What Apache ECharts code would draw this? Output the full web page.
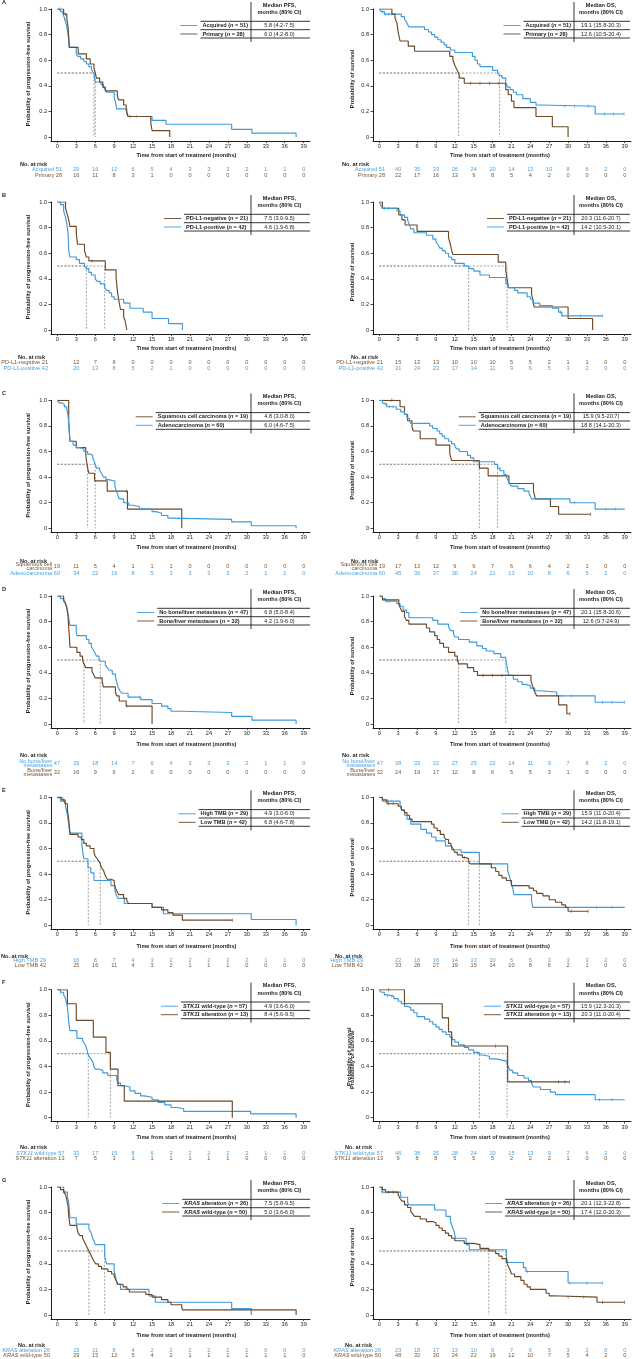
<!DOCTYPE html>
<html><head><meta charset="utf-8">
<script src="https://cdn.jsdelivr.net/npm/echarts@6/dist/echarts.min.js"></script>
<style>html,body{margin:0;padding:0;background:#fff}#c{width:632px;height:1359px}</style>
</head><body><div id="c"></div>
<script>
// ---------------- DATA ----------------
const TIMES = [0,3,6,9,12,15,18,21,24,27,30,33,36,39];
const Y_TICKS = [0,0.2,0.4,0.6,0.8,1];

// Panel A
const A_PFS_ACQ = [[0,1],[0.5,0.98],[0.9,0.96],[1.2,0.92],[1.5,0.86],[1.7,0.80],[1.8,0.76],[1.9,0.70],[3.0,0.65],[3.2,0.63],[3.7,0.61],[4.2,0.59],[4.6,0.57],[5.0,0.55],[5.4,0.53],[5.6,0.51],[5.8,0.49],[5.9,0.45],[6.0,0.43],[6.9,0.41],[7.3,0.39],[7.6,0.37],[7.8,0.35],[9.0,0.31],[9.2,0.27],[9.4,0.22],[11.0,0.18],[11.2,0.16],[15.0,0.13],[17.2,0.10],[27.6,0.06],[30.8,0.03],[37.8,0]];
const A_PFS_PRI = [[0,1],[1.0,0.96],[1.5,0.93],[1.7,0.86],[1.8,0.79],[1.9,0.70],[3.3,0.65],[4.6,0.61],[5.2,0.57],[5.8,0.54],[6.0,0.50],[6.2,0.46],[6.7,0.43],[7.2,0.39],[7.6,0.36],[9.5,0.32],[9.7,0.29],[10.5,0.25],[10.9,0.21],[11.2,0.16],[14.8,0.11],[15.0,0.05],[17.8,0]];
const A_OS_ACQ = [[0,1],[0.3,0.98],[0.8,0.96],[3.5,0.94],[4.0,0.92],[4.3,0.90],[4.5,0.88],[4.7,0.86],[7.2,0.84],[7.8,0.82],[8.3,0.80],[8.8,0.78],[9.3,0.76],[9.8,0.74],[10.3,0.72],[10.7,0.70],[11.3,0.68],[12.0,0.66],[14.8,0.63],[15.2,0.60],[15.6,0.57],[16.0,0.55],[18.0,0.52],[18.8,0.50],[19.1,0.48],[19.5,0.46],[20.1,0.42],[20.4,0.39],[20.8,0.37],[21.3,0.35],[21.8,0.33],[22.8,0.30],[24.0,0.27],[24.9,0.25],[25.6,0.24],[34.3,0.18],[38.9,0.18]];
const A_OS_PRI = [[0,1],[2.0,0.96],[2.5,0.93],[2.8,0.89],[3.0,0.82],[3.3,0.75],[4.6,0.71],[5.6,0.67],[11.2,0.63],[11.7,0.60],[12.0,0.56],[12.3,0.53],[12.6,0.50],[12.8,0.46],[13.5,0.42],[20.1,0.37],[20.5,0.33],[21.0,0.28],[21.4,0.23],[24.9,0.16],[27.5,0.08],[30.0,0]];
const A_PFS_ACQ_C = [0.3,1.2,12.5];
const A_PFS_PRI_C = [1.3,11.5];
const A_OS_ACQ_C = [0.5,1.0,1.5,2.0,29.5,31,33.2,35.8,37.2,38.9];
const A_OS_PRI_C = [14.5,16,17.5,19];
const R_A_PFS_ACQ = [51,29,16,12,6,5,4,3,3,3,2,1,1,0];
const R_A_PFS_PRI = [28,16,11,8,3,1,0,0,0,0,0,0,0,0];
const R_A_OS_ACQ = [51,40,35,33,26,24,20,14,12,10,8,6,2,0];
const R_A_OS_PRI = [28,22,17,16,13,9,8,5,4,2,0,0,0,0];

// Panel B
const B_PFS_NEG = [[0,1],[1.3,0.95],[1.6,0.90],[1.8,0.86],[2.0,0.81],[3.0,0.76],[3.1,0.71],[3.2,0.67],[4.3,0.62],[4.6,0.57],[5.0,0.54],[7.6,0.47],[9.3,0.41],[9.5,0.31],[9.7,0.24],[10.0,0.16],[10.5,0.10],[10.7,0.08],[11.0,0]];
const B_PFS_POS = [[0,1],[0.5,0.98],[1.0,0.93],[1.3,0.88],[1.5,0.83],[1.7,0.76],[1.8,0.62],[2.0,0.57],[3.0,0.55],[3.5,0.52],[4.3,0.50],[4.6,0.48],[5.0,0.45],[5.4,0.43],[6.0,0.40],[6.3,0.38],[6.8,0.36],[7.5,0.33],[7.8,0.31],[8.2,0.29],[8.6,0.26],[9.0,0.24],[10.5,0.21],[11.5,0.17],[13.6,0.14],[15.0,0.09],[17.6,0.05],[19.8,0]];
const B_OS_NEG = [[0,1],[0.5,0.95],[3.1,0.90],[3.6,0.86],[4.1,0.82],[6.0,0.77],[11.0,0.72],[11.3,0.67],[11.5,0.62],[11.7,0.59],[18.9,0.53],[20.1,0.47],[20.3,0.40],[20.5,0.33],[24.2,0.28],[24.4,0.24],[24.6,0.18],[30.0,0.09],[33.9,0]];
const B_OS_POS = [[0,1],[0.2,0.98],[0.5,0.95],[2.8,0.93],[3.3,0.90],[4.0,0.88],[4.5,0.86],[4.7,0.83],[5.0,0.79],[5.5,0.76],[7.5,0.74],[8.5,0.71],[9.0,0.69],[9.3,0.67],[9.6,0.64],[10.0,0.62],[10.5,0.60],[11.0,0.57],[11.5,0.55],[12.0,0.52],[13.5,0.50],[14.2,0.48],[15.0,0.46],[16.0,0.43],[17.5,0.41],[20.1,0.36],[20.5,0.33],[21.5,0.31],[22.0,0.29],[23.5,0.26],[24.0,0.24],[24.4,0.21],[25.5,0.19],[27.5,0.17],[28.5,0.14],[29.0,0.11],[35.5,0.11]];
const B_PFS_NEG_C = [5.5];
const B_PFS_POS_C = [];
const B_OS_NEG_C = [];
const B_OS_POS_C = [0.8,1.5,28.8,32,35.5];
const R_B_PFS_NEG = [21,12,7,6,0,0,0,0,0,0,0,0,0,0];
const R_B_PFS_POS = [42,20,13,8,5,2,1,0,0,0,0,0,0,0];
const R_B_OS_NEG = [21,15,13,13,10,10,10,5,5,2,1,1,0,0];
const R_B_OS_POS = [42,31,24,22,17,14,11,9,6,5,3,2,0,0];

// Panel C
const C_PFS_SQ = [[0,1],[1.8,0.84],[2.0,0.68],[3.0,0.63],[4.5,0.58],[4.6,0.53],[4.8,0.47],[5.0,0.43],[5.9,0.37],[7.9,0.29],[11.1,0.15],[19.7,0]];
const C_PFS_AD = [[0,1],[0.3,0.98],[0.7,0.97],[1.1,0.95],[1.5,0.93],[1.7,0.88],[1.8,0.82],[1.9,0.75],[2.0,0.68],[2.5,0.65],[3.0,0.63],[3.6,0.62],[4.2,0.60],[4.8,0.58],[5.2,0.57],[5.6,0.55],[5.8,0.53],[6.0,0.50],[6.2,0.47],[6.7,0.45],[7.0,0.43],[7.3,0.40],[7.7,0.38],[8.1,0.37],[9.1,0.33],[9.3,0.30],[9.5,0.27],[9.8,0.23],[10.5,0.20],[11.3,0.18],[12.0,0.17],[13.0,0.15],[15.0,0.13],[15.6,0.12],[16.5,0.10],[17.5,0.08],[18.0,0.07],[27.6,0.05],[30.7,0.02],[37.8,0]];
const C_OS_SQ = [[0,1],[3.3,0.95],[4.0,0.89],[4.5,0.84],[5.2,0.79],[5.4,0.76],[6.5,0.70],[9.0,0.65],[11.2,0.58],[11.5,0.53],[15.9,0.47],[17.3,0.41],[20.6,0.35],[24.5,0.29],[24.8,0.23],[27.2,0.17],[28.5,0.11],[33.6,0.11]];
const C_OS_AD = [[0,1],[0.5,0.98],[0.8,0.97],[1.2,0.95],[2.7,0.93],[3.4,0.91],[4.0,0.89],[4.4,0.86],[4.8,0.84],[5.0,0.82],[8.0,0.80],[8.5,0.78],[9.2,0.76],[9.6,0.74],[10.0,0.72],[10.4,0.70],[11.0,0.68],[11.5,0.66],[12.0,0.64],[12.3,0.62],[12.7,0.60],[14.0,0.57],[14.5,0.55],[15.0,0.52],[18.3,0.50],[18.8,0.47],[19.2,0.45],[19.8,0.42],[20.2,0.40],[20.5,0.37],[20.7,0.35],[21.0,0.33],[22.0,0.31],[23.0,0.29],[23.8,0.27],[24.0,0.25],[24.2,0.23],[30.3,0.20],[34.3,0.15],[39.0,0.15]];
const C_PFS_SQ_C = [11];
const C_PFS_AD_C = [1.2,13.5];
const C_OS_SQ_C = [2,33.6];
const C_OS_AD_C = [1,1.6,2.2,31,36,37.5];
const R_C_PFS_SQ = [19,11,5,4,1,1,1,0,0,0,0,0,0,0];
const R_C_PFS_AD = [60,34,22,16,8,5,3,3,3,3,2,1,1,0];
const R_C_OS_SQ = [19,17,13,12,9,9,7,6,6,4,2,1,0,0];
const R_C_OS_AD = [60,45,39,37,30,24,21,13,10,8,6,5,2,0];

// Panel D
const D_PFS_NO = [[0,1],[0.5,0.98],[1.0,0.96],[1.3,0.94],[1.6,0.89],[1.8,0.83],[2.0,0.77],[3.0,0.72],[3.1,0.69],[4.6,0.66],[5.0,0.63],[5.4,0.60],[5.7,0.58],[6.0,0.55],[6.2,0.53],[6.6,0.51],[6.8,0.49],[7.6,0.46],[7.9,0.44],[8.2,0.42],[8.7,0.39],[9.2,0.37],[9.4,0.33],[9.6,0.29],[9.9,0.26],[10.2,0.24],[11.2,0.21],[13.2,0.19],[15.0,0.16],[16.5,0.14],[17.5,0.12],[18.0,0.10],[19.5,0.09],[27.6,0.06],[30.8,0.03],[37.8,0]];
const D_PFS_BONE = [[0,1],[1.0,0.97],[1.3,0.94],[1.5,0.91],[1.7,0.84],[1.8,0.75],[1.9,0.69],[2.0,0.60],[3.1,0.56],[3.6,0.53],[4.0,0.50],[4.2,0.47],[4.5,0.44],[5.5,0.41],[5.8,0.38],[6.0,0.36],[7.1,0.33],[7.3,0.29],[9.2,0.25],[9.4,0.22],[9.8,0.18],[10.9,0.14],[15.0,0]];
const D_OS_NO = [[0,1],[0.5,0.98],[1.0,0.96],[2.8,0.94],[3.3,0.92],[3.8,0.89],[4.3,0.87],[4.7,0.83],[8.5,0.81],[9.3,0.78],[11.0,0.76],[11.3,0.73],[11.8,0.70],[12.0,0.68],[12.6,0.66],[14.3,0.64],[15.5,0.61],[16.4,0.59],[17.0,0.57],[18.2,0.55],[19.3,0.52],[20.1,0.50],[20.2,0.47],[20.4,0.42],[20.6,0.38],[21.3,0.35],[22.0,0.33],[22.7,0.31],[23.2,0.30],[24.0,0.28],[24.7,0.26],[25.5,0.25],[28.2,0.22],[34.3,0.17],[39.0,0.17]];
const D_OS_BONE = [[0,1],[0.5,0.97],[3.1,0.94],[3.3,0.91],[3.6,0.88],[4.0,0.84],[4.3,0.81],[4.7,0.78],[7.5,0.75],[8.0,0.72],[8.8,0.69],[9.2,0.66],[9.6,0.63],[10.2,0.60],[11.0,0.56],[12.0,0.53],[12.4,0.50],[12.6,0.47],[14.0,0.44],[15.0,0.41],[15.6,0.38],[24.1,0.34],[24.4,0.29],[24.7,0.25],[25.0,0.22],[28.5,0.15],[29.8,0.08],[30.3,0.08]];
const D_PFS_NO_C = [1.2,13];
const D_PFS_BONE_C = [11];
const D_OS_NO_C = [1.2,1.6,29,30.5,35.5,37,39];
const D_OS_BONE_C = [16.5,18,19.5,30.3];
const R_D_PFS_NO = [47,29,18,14,7,6,4,3,3,3,2,1,1,0];
const R_D_PFS_BONE = [32,16,9,6,2,0,0,0,0,0,0,0,0,0];
const R_D_OS_NO = [47,38,33,32,27,25,22,14,11,9,7,6,2,0];
const R_D_OS_BONE = [32,24,19,17,12,8,6,5,5,3,1,0,0,0];

// Panel E
const E_PFS_HIGH = [[0,1],[0.5,0.97],[1.3,0.93],[1.6,0.86],[1.8,0.79],[2.0,0.72],[3.9,0.62],[4.1,0.55],[4.2,0.52],[4.85,0.45],[5.3,0.41],[5.8,0.35],[8.5,0.31],[9.1,0.28],[9.3,0.24],[9.6,0.21],[10.6,0.17],[15.0,0.14],[16.8,0.09],[30.7,0.045],[37.8,0]];
const E_PFS_LOW = [[0,1],[0.7,0.98],[1.2,0.95],[1.6,0.90],[1.8,0.83],[2.0,0.71],[3.3,0.69],[3.8,0.67],[4.2,0.64],[4.6,0.62],[5.2,0.60],[5.8,0.57],[6.0,0.54],[6.3,0.52],[6.6,0.50],[6.8,0.48],[7.0,0.45],[7.3,0.43],[7.5,0.40],[7.7,0.38],[7.9,0.36],[8.5,0.35],[9.0,0.33],[9.2,0.29],[9.5,0.26],[9.7,0.24],[10.5,0.21],[11.0,0.19],[11.3,0.17],[15.0,0.14],[16.5,0.12],[17.5,0.10],[18.3,0.08],[19.8,0.04],[27.7,0.04]];
const E_OS_HIGH = [[0,1],[0.5,0.97],[3.3,0.93],[3.6,0.90],[4.0,0.86],[4.4,0.83],[5.0,0.79],[6.6,0.75],[7.5,0.72],[8.3,0.69],[9.0,0.66],[10.5,0.62],[11.5,0.59],[13.0,0.57],[15.9,0.48],[20.4,0.43],[20.7,0.38],[20.9,0.34],[21.2,0.29],[21.4,0.24],[24.2,0.19],[24.4,0.14],[39.0,0.14]];
const E_OS_LOW = [[0,1],[0.5,0.98],[1.2,0.95],[3.0,0.93],[3.5,0.90],[4.0,0.88],[4.4,0.86],[4.8,0.83],[5.2,0.81],[8.3,0.79],[8.7,0.76],[9.2,0.74],[9.7,0.71],[10.3,0.69],[10.6,0.67],[11.0,0.64],[11.4,0.62],[11.7,0.60],[12.0,0.57],[12.4,0.55],[13.2,0.53],[13.8,0.52],[14.2,0.50],[14.4,0.48],[17.8,0.45],[18.5,0.42],[19.0,0.39],[19.5,0.37],[20.2,0.35],[21.0,0.31],[23.8,0.29],[24.5,0.27],[25.0,0.25],[26.0,0.23],[27.0,0.20],[28.0,0.18],[29.0,0.16],[29.6,0.14],[30.0,0.11],[33.2,0.11]];
const E_PFS_HIGH_C = [0.3];
const E_PFS_LOW_C = [1,27.7];
const E_OS_HIGH_C = [1,1.5,2,34.5,37];
const E_OS_LOW_C = [1.5,2.2,13.5,30.5,33.2];
const R_E_PFS_HIGH = [29,16,8,7,4,3,2,2,2,2,2,1,1,0];
const R_E_PFS_LOW = [42,25,16,11,4,3,2,1,1,1,0,0,0,0];
const R_E_OS_HIGH = [29,22,18,16,14,13,10,5,5,3,3,3,2,0];
const R_E_OS_LOW = [42,33,28,27,19,15,14,10,8,6,2,1,0,0];

// Panel F
const F_PFS_WT = [[0,1],[0.5,0.98],[1.0,0.96],[1.3,0.93],[1.5,0.89],[1.7,0.82],[1.8,0.75],[2.0,0.68],[3.1,0.62],[4.0,0.60],[4.3,0.58],[4.5,0.56],[4.7,0.53],[4.8,0.51],[5.0,0.48],[5.3,0.46],[5.6,0.44],[5.8,0.40],[6.0,0.38],[6.5,0.37],[7.2,0.35],[8.0,0.33],[9.4,0.30],[9.6,0.27],[10.0,0.25],[10.7,0.24],[11.5,0.21],[12.3,0.19],[13.2,0.17],[13.8,0.16],[15.0,0.14],[16.0,0.12],[17.0,0.10],[18.0,0.08],[19.0,0.07],[20.0,0.05],[30.6,0.03],[37.8,0]];
const F_PFS_ALT = [[0,1],[1.6,0.89],[3.0,0.76],[5.7,0.63],[7.7,0.51],[8.4,0.38],[9.6,0.25],[10.6,0.13],[27.7,0]];
const F_OS_WT = [[0,1],[0.3,0.98],[0.8,0.96],[1.3,0.95],[2.3,0.93],[3.0,0.91],[3.5,0.89],[4.0,0.87],[4.5,0.86],[5.0,0.84],[5.5,0.82],[6.0,0.79],[7.2,0.77],[8.0,0.75],[8.5,0.73],[9.0,0.71],[9.5,0.69],[10.0,0.67],[10.6,0.65],[11.2,0.63],[11.6,0.61],[12.0,0.59],[12.6,0.57],[13.5,0.55],[14.2,0.53],[15.0,0.51],[15.9,0.49],[16.4,0.48],[17.5,0.46],[18.5,0.45],[19.5,0.44],[20.3,0.42],[20.6,0.39],[20.8,0.37],[21.2,0.35],[22.0,0.33],[23.0,0.31],[23.7,0.29],[24.2,0.27],[24.5,0.24],[25.6,0.22],[27.2,0.20],[28.0,0.18],[34.3,0.14],[39.0,0.14]];
const F_OS_ALT = [[0,1],[4.0,0.89],[10.0,0.78],[11.0,0.67],[11.5,0.56],[20.4,0.28],[30.2,0.28]];
const F_PFS_WT_C = [0.5];
const F_PFS_ALT_C = [1.6];
const F_OS_WT_C = [1.3,2,35,37];
const F_OS_ALT_C = [1.5,18.5,28.5,29.5,30.2];
const R_F_PFS_WT = [57,33,17,15,8,6,3,2,2,2,2,1,1,0];
const R_F_PFS_ALT = [13,7,5,3,1,1,1,1,1,1,0,0,0,0];
const R_F_OS_WT = [57,46,38,35,28,24,20,15,13,9,7,6,2,0];
const R_F_OS_ALT = [13,9,8,8,5,5,5,2,2,2,1,0,0,0];

// Panel G
const G_PFS_ALT = [[0,1],[1.0,0.96],[1.6,0.92],[1.8,0.88],[1.9,0.82],[2.0,0.76],[3.0,0.71],[5.0,0.67],[5.3,0.65],[5.6,0.60],[5.8,0.58],[6.0,0.55],[7.5,0.46],[7.8,0.40],[9.0,0.35],[9.2,0.30],[9.5,0.24],[10.0,0.20],[14.5,0.15],[15.5,0.10],[27.6,0.05],[30.7,0]];
const G_PFS_WT = [[0,1],[0.5,0.98],[1.0,0.96],[1.3,0.94],[1.5,0.90],[1.7,0.85],[1.8,0.78],[2.0,0.70],[3.1,0.68],[3.3,0.64],[3.6,0.62],[4.0,0.60],[4.3,0.57],[4.6,0.54],[4.8,0.52],[5.0,0.50],[5.2,0.48],[5.5,0.45],[5.8,0.42],[6.1,0.40],[6.5,0.38],[7.0,0.36],[8.0,0.34],[8.6,0.32],[9.0,0.30],[9.3,0.27],[9.6,0.24],[10.4,0.22],[11.0,0.20],[11.4,0.18],[14.0,0.16],[15.0,0.14],[16.5,0.12],[17.5,0.10],[18.0,0.08],[19.7,0.06],[19.8,0.04],[37.8,0]];
const G_OS_ALT = [[0,1],[0.4,0.96],[3.4,0.92],[4.5,0.88],[4.7,0.86],[8.8,0.82],[10.6,0.77],[11.3,0.73],[11.6,0.69],[11.9,0.65],[12.1,0.60],[13.8,0.55],[14.3,0.51],[20.2,0.45],[20.4,0.41],[22.9,0.37],[23.3,0.34],[30.0,0.25],[35.5,0.25]];
const G_OS_WT = [[0,1],[0.5,0.98],[1.0,0.96],[3.0,0.94],[3.3,0.91],[3.6,0.89],[4.0,0.86],[4.5,0.84],[5.0,0.81],[5.3,0.79],[5.6,0.77],[6.5,0.75],[7.5,0.73],[8.5,0.72],[9.0,0.70],[9.5,0.68],[10.0,0.66],[10.5,0.64],[11.0,0.62],[11.5,0.60],[12.0,0.58],[13.5,0.56],[15.0,0.55],[16.0,0.52],[17.4,0.50],[18.5,0.48],[19.0,0.46],[19.5,0.44],[20.2,0.42],[20.5,0.38],[20.8,0.35],[21.0,0.32],[21.5,0.30],[22.5,0.27],[23.0,0.24],[23.5,0.22],[24.0,0.20],[26.5,0.17],[27.0,0.15],[27.4,0.14],[34.6,0.10],[39.0,0.10]];
const G_PFS_ALT_C = [];
const G_PFS_WT_C = [1.2];
const G_OS_ALT_C = [0.5,1,23.5,30.3,33,35.5];
const G_OS_WT_C = [1.5,2.2,30,32.5,35.5,39];
const R_G_PFS_ALT = [26,15,11,8,4,2,2,2,2,2,1,0,0,0];
const R_G_PFS_WT = [50,29,15,12,5,4,2,1,1,1,1,1,1,0];
const R_G_OS_ALT = [26,23,18,17,13,10,9,7,6,5,3,2,0,0];
const R_G_OS_WT = [50,48,32,30,24,22,19,12,10,7,5,4,2,0];

// ---------------- PANEL DEFINITIONS ----------------
const PANELS = [
 {row:0, side:0, kind:'PFS', g:[
  {label:'Acquired', n:51, col:'b', curve:A_PFS_ACQ, cens:A_PFS_ACQ_C, risk:R_A_PFS_ACQ, med:'5.8 (4.2-7.5)'},
  {label:'Primary', n:28, col:'r', curve:A_PFS_PRI, cens:A_PFS_PRI_C, risk:R_A_PFS_PRI, med:'6.0 (4.2-8.0)'}]},
 {row:0, side:1, kind:'OS', g:[
  {label:'Acquired', n:51, col:'b', curve:A_OS_ACQ, cens:A_OS_ACQ_C, risk:R_A_OS_ACQ, med:'19.1 (15.8-20.3)'},
  {label:'Primary', n:28, col:'r', curve:A_OS_PRI, cens:A_OS_PRI_C, risk:R_A_OS_PRI, med:'12.6 (10.5-20.4)'}]},
 {row:1, side:0, kind:'PFS', g:[
  {label:'PD-L1-negative', n:21, col:'r', curve:B_PFS_NEG, cens:B_PFS_NEG_C, risk:R_B_PFS_NEG, med:'7.5 (3.0-9.5)'},
  {label:'PD-L1-positive', n:42, col:'b', curve:B_PFS_POS, cens:B_PFS_POS_C, risk:R_B_PFS_POS, med:'4.6 (1.9-6.8)'}]},
 {row:1, side:1, kind:'OS', g:[
  {label:'PD-L1-negative', n:21, col:'r', curve:B_OS_NEG, cens:B_OS_NEG_C, risk:R_B_OS_NEG, med:'20.3 (11.6-20.7)'},
  {label:'PD-L1-positive', n:42, col:'b', curve:B_OS_POS, cens:B_OS_POS_C, risk:R_B_OS_POS, med:'14.2 (10.5-20.1)'}]},
 {row:2, side:0, kind:'PFS', g:[
  {label:'Squamous cell carcinoma', riskName:'Squamous cell\ncarcinoma', n:19, col:'r', curve:C_PFS_SQ, cens:C_PFS_SQ_C, risk:R_C_PFS_SQ, med:'4.8 (3.0-8.0)'},
  {label:'Adenocarcinoma', n:60, col:'b', curve:C_PFS_AD, cens:C_PFS_AD_C, risk:R_C_PFS_AD, med:'6.0 (4.6-7.5)'}]},
 {row:2, side:1, kind:'OS', g:[
  {label:'Squamous cell carcinoma', riskName:'Squamous cell\ncarcinoma', n:19, col:'r', curve:C_OS_SQ, cens:C_OS_SQ_C, risk:R_C_OS_SQ, med:'15.9 (9.5-20.7)'},
  {label:'Adenocarcinoma', n:60, col:'b', curve:C_OS_AD, cens:C_OS_AD_C, risk:R_C_OS_AD, med:'18.8 (14.1-20.3)'}]},
 {row:3, side:0, kind:'PFS', g:[
  {label:'No bone/liver metastases', riskName:'No bone/liver\nmetastases', n:47, col:'b', curve:D_PFS_NO, cens:D_PFS_NO_C, risk:R_D_PFS_NO, med:'6.8 (5.0-8.4)'},
  {label:'Bone/liver metastases', riskName:'Bone/liver\nmetastases', n:32, col:'r', curve:D_PFS_BONE, cens:D_PFS_BONE_C, risk:R_D_PFS_BONE, med:'4.2 (1.9-6.0)'}]},
 {row:3, side:1, kind:'OS', g:[
  {label:'No bone/liver metastases', riskName:'No bone/liver\nmetastases', n:47, col:'b', curve:D_OS_NO, cens:D_OS_NO_C, risk:R_D_OS_NO, med:'20.1 (15.8-20.6)'},
  {label:'Bone/liver metastases', riskName:'Bone/liver\nmetastases', n:32, col:'r', curve:D_OS_BONE, cens:D_OS_BONE_C, risk:R_D_OS_BONE, med:'12.6 (9.7-24.9)'}]},
 {row:4, side:0, kind:'PFS', g:[
  {label:'High TMB', n:29, col:'b', curve:E_PFS_HIGH, cens:E_PFS_HIGH_C, risk:R_E_PFS_HIGH, med:'4.9 (3.0-6.0)'},
  {label:'Low TMB', n:42, col:'r', curve:E_PFS_LOW, cens:E_PFS_LOW_C, risk:R_E_PFS_LOW, med:'6.8 (4.6-7.8)'}]},
 {row:4, side:1, kind:'OS', g:[
  {label:'High TMB', n:29, col:'b', curve:E_OS_HIGH, cens:E_OS_HIGH_C, risk:R_E_OS_HIGH, med:'15.9 (11.0-20.4)'},
  {label:'Low TMB', n:42, col:'r', curve:E_OS_LOW, cens:E_OS_LOW_C, risk:R_E_OS_LOW, med:'14.2 (11.8-19.1)'}]},
 {row:5, side:0, kind:'PFS', g:[
  {label:'*STK11* wild-type', n:57, col:'b', curve:F_PFS_WT, cens:F_PFS_WT_C, risk:R_F_PFS_WT, med:'4.9 (3.6-6.0)'},
  {label:'*STK11* alteration', n:13, col:'r', curve:F_PFS_ALT, cens:F_PFS_ALT_C, risk:R_F_PFS_ALT, med:'8.4 (5.6-9.5)'}]},
 {row:5, side:1, kind:'OS', g:[
  {label:'*STK11* wild-type', n:57, col:'b', curve:F_OS_WT, cens:F_OS_WT_C, risk:R_F_OS_WT, med:'15.9 (12.3-20.3)'},
  {label:'*STK11* alteration', n:13, col:'r', curve:F_OS_ALT, cens:F_OS_ALT_C, risk:R_F_OS_ALT, med:'20.3 (11.0-20.4)'}]},
 {row:6, side:0, kind:'PFS', g:[
  {label:'*KRAS* alteration', n:26, col:'b', curve:G_PFS_ALT, cens:G_PFS_ALT_C, risk:R_G_PFS_ALT, med:'7.5 (5.8-9.5)'},
  {label:'*KRAS* wild-type', n:50, col:'r', curve:G_PFS_WT, cens:G_PFS_WT_C, risk:R_G_PFS_WT, med:'5.0 (3.6-6.0)'}]},
 {row:6, side:1, kind:'OS', g:[
  {label:'*KRAS* alteration', n:26, col:'b', curve:G_OS_ALT, cens:G_OS_ALT_C, risk:R_G_OS_ALT, med:'20.1 (12.3-22.8)'},
  {label:'*KRAS* wild-type', n:50, col:'r', curve:G_OS_WT, cens:G_OS_WT_C, risk:R_G_OS_WT, med:'17.4 (12.0-20.3)'}]}
];
const LETTERS = ['A','B','C','D','E','F','G'];

// ---------------- LAYOUT ----------------
const FONT = '"Liberation Sans", Arial, Helvetica, sans-serif';
const FS = 5.6;
const COL = {b:'#3E9ADA', r:'#6B4826'};
const TCOL = {b:'#4BA3E3', r:'#7A5733'};
const AX = '#1e1e1e';
const ROW_TOP = [9, 202, 400.3, 596, 797.3, 989.7, 1187];
const PLOT_H = 132, Y_MIN = -0.03125;
const GRID_X = [{left:51, width:259}, {left:373, width:258}];
const LEG_SEP = [251, 574], LEG_RIGHT = [310, 630];
const TITLE_Y = [155, 348, 547, 744, 946, 1137.7, 1335.7];
const TITLE_DX = [6, -2];
const NAR_Y = [164, 357, 561, 755, 956, 1147, 1345];
const RISK_Y = [[169,175],[362,368],[566.3,573.3],[763.7,772.3],[960.7,965.5],[1153,1158.3],[1350.3,1355.3]];
const NAR_X = [[20,342],[18,351],[20,351],[20,342],[1,335],[20,345],[18,345]];
const RISK_NAME_RIGHT = [[62,385],[48,383],[60,385],[60,383],[46,363],[64.5,383],[50,381]];
const YT_X = [28, 352.8], YT_DY = [65, 70];

// ---------------- HELPERS ----------------
const cv = document.createElement('canvas').getContext('2d');
function measure(str, bold){
  let w = 0;
  str.split('*').forEach((s,k)=>{
    cv.font = (k%2?'italic ':'') + (bold?'bold ':'') + FS + 'px ' + FONT;
    w += cv.measureText(s).width;
  });
  return w;
}
function survAt(curve, t){
  let s = curve[0][1];
  for (const p of curve){ if (p[0] <= t) s = p[1]; }
  return s;
}
function text(x, y, str, o){
  o = o || {};
  const weight = o.bold ? 'bold' : 'normal';
  const style = {
    text: str, fontSize: FS, fontFamily: FONT, fontWeight: weight,
    fill: o.color || AX, align: o.align || 'left', textAlign: o.align || 'left',
    verticalAlign: 'middle', textVerticalAlign: 'middle'
  };
  if (o.lineHeight) style.lineHeight = o.lineHeight;
  if (str.indexOf('*') >= 0){
    style.text = str.split('*').map((s,k)=> s==='' ? '' : (k%2 ? '{i|'+s+'}' : '{r|'+s+'}')).join('');
    const base = {fontSize:FS, fontFamily:FONT, fontWeight:weight, fill:style.fill, color:style.fill};
    style.rich = {r: Object.assign({}, base), i: Object.assign({fontStyle:'italic'}, base)};
  }
  const el = {type:'text', x:x, y:y, silent:true, z:10, style:style};
  if (o.rotation) el.rotation = o.rotation;
  return el;
}
function line(x1,y1,x2,y2,color,w){
  return {type:'line', silent:true, z:10, shape:{x1:x1,y1:y1,x2:x2,y2:y2}, style:{stroke:color||AX, lineWidth:w||0.9}};
}

// ---------------- CHART ----------------
const chart = echarts.init(document.getElementById('c'), null, {renderer:'canvas'});
const grids=[], xAxes=[], yAxes=[], series=[];
PANELS.forEach((p,i)=>{
  const gx = GRID_X[p.side];
  grids.push({left:gx.left, width:gx.width, top:ROW_TOP[p.row], height:PLOT_H});
  xAxes.push({gridIndex:i, type:'value', min:-1, max:40,
    axisLine:{show:true, onZero:false, lineStyle:{color:AX, width:1}},
    axisTick:{show:true, length:2, customValues:TIMES, lineStyle:{color:AX, width:0.8}},
    axisLabel:{customValues:TIMES, fontSize:FS, fontFamily:FONT, color:AX, margin:2.6},
    splitLine:{show:false}});
  yAxes.push({gridIndex:i, type:'value', min:Y_MIN, max:1,
    axisLine:{show:true, onZero:false, lineStyle:{color:AX, width:1}},
    axisTick:{show:true, length:2.5, customValues:Y_TICKS, lineStyle:{color:AX, width:0.8}},
    axisLabel:{customValues:Y_TICKS, fontSize:FS, fontFamily:FONT, color:AX, margin:4,
      formatter:v=> v===0 ? '0' : v.toFixed(1)},
    splitLine:{show:false}});
  p.g.forEach(g=>{
    const m = parseFloat(g.med);
    series.push({type:'line', xAxisIndex:i, yAxisIndex:i, data:[[0,0.5],[m,0.5],[m,0]],
      symbol:'none', silent:true, z:2, lineStyle:{color:'#8a8a8a', width:0.8, type:[2,1.6]}});
  });
  p.g.forEach(g=>{
    series.push({type:'line', xAxisIndex:i, yAxisIndex:i, step:'end', data:g.curve,
      symbol:'none', silent:true, z:3, lineStyle:{color:COL[g.col], width:1.15}});
    series.push({type:'scatter', xAxisIndex:i, yAxisIndex:i, silent:true, z:4,
      data:g.cens.map(t=>[t, survAt(g.curve,t)]), symbol:'rect', symbolSize:[0.7,3.4],
      itemStyle:{color:COL[g.col]}});
  });
});
chart.setOption({animation:false, backgroundColor:'#fff', grid:grids, xAxis:xAxes, yAxis:yAxes, series:series});

// ---------------- GRAPHIC TEXT / TABLES ----------------
const els = [];
LETTERS.forEach((L,r)=> els.push(text(2, ROW_TOP[r]-7, L, {bold:true})));
PANELS.forEach((p,i)=>{
  const r = p.row, s = p.side, top = ROW_TOP[r];
  const px = t => chart.convertToPixel({xAxisIndex:i}, t);
  // axis titles
  els.push(text(px(19.5)+TITLE_DX[s], TITLE_Y[r], 'Time from start of treatment (months)', {bold:true, align:'center'}));
  const yt = p.kind==='PFS' ? 'Probability of progression-free survival' : 'Probability of survival';
  els.push(text(YT_X[s], top+YT_DY[s], yt, {bold:true, align:'center', rotation:Math.PI/2}));
  if (r===5 && s===1) els.push(text(YT_X[s]-3.5, top+YT_DY[s]-3, yt, {bold:true, align:'center', rotation:Math.PI/2}));
  // legend table
  const sep = LEG_SEP[s], right = LEG_RIGHT[s];
  const labels = p.g.map(g=> g.label + ' (*n* = ' + g.n + ')');
  const maxW = Math.max.apply(null, labels.map(l=>measure(l,true)));
  const labelLeft = sep - 3 - maxW;
  const cx = (sep+right)/2 - 1;
  els.push(line(sep, top-7, sep, top+33, AX, 0.9));
  els.push(text(cx, top-4, 'Median ' + p.kind + ',', {bold:true, align:'center'}));
  els.push(text(cx, top+3.5, 'months (80% CI)', {bold:true, align:'center'}));
  [12.3, 20.7, 29].forEach(dy=> els.push(line(labelLeft-2, top+dy, right, top+dy, AX, 0.9)));
  p.g.forEach((g,k)=>{
    const y = top + (k ? 25 : 16.5);
    els.push(line(labelLeft-22, y, labelLeft-5, y, COL[g.col], 0.9));
    els.push(text(labelLeft, y, labels[k], {bold:true}));
    els.push(text(cx, y, g.med, {align:'center'}));
  });
  // number at risk
  els.push(text(NAR_X[r][s], NAR_Y[r], 'No. at risk', {bold:true}));
  p.g.forEach((g,k)=>{
    const y = RISK_Y[r][k], c = TCOL[g.col];
    const nr = RISK_NAME_RIGHT[r][s];
    const first = String(g.risk[0]);
    els.push(text(nr, y, first, {align:'right', color:c}));
    const name = g.riskName || g.label;
    els.push(text(nr - measure(first,false) - 1.6, y, name, {align:'right', color:c, lineHeight:4.4}));
    for (let j=1;j<TIMES.length;j++){
      els.push(text(px(TIMES[j]), y, String(g.risk[j]), {align:'center', color:c}));
    }
  });
});
chart.setOption({graphic:{elements:els}});
</script>
</body></html>
